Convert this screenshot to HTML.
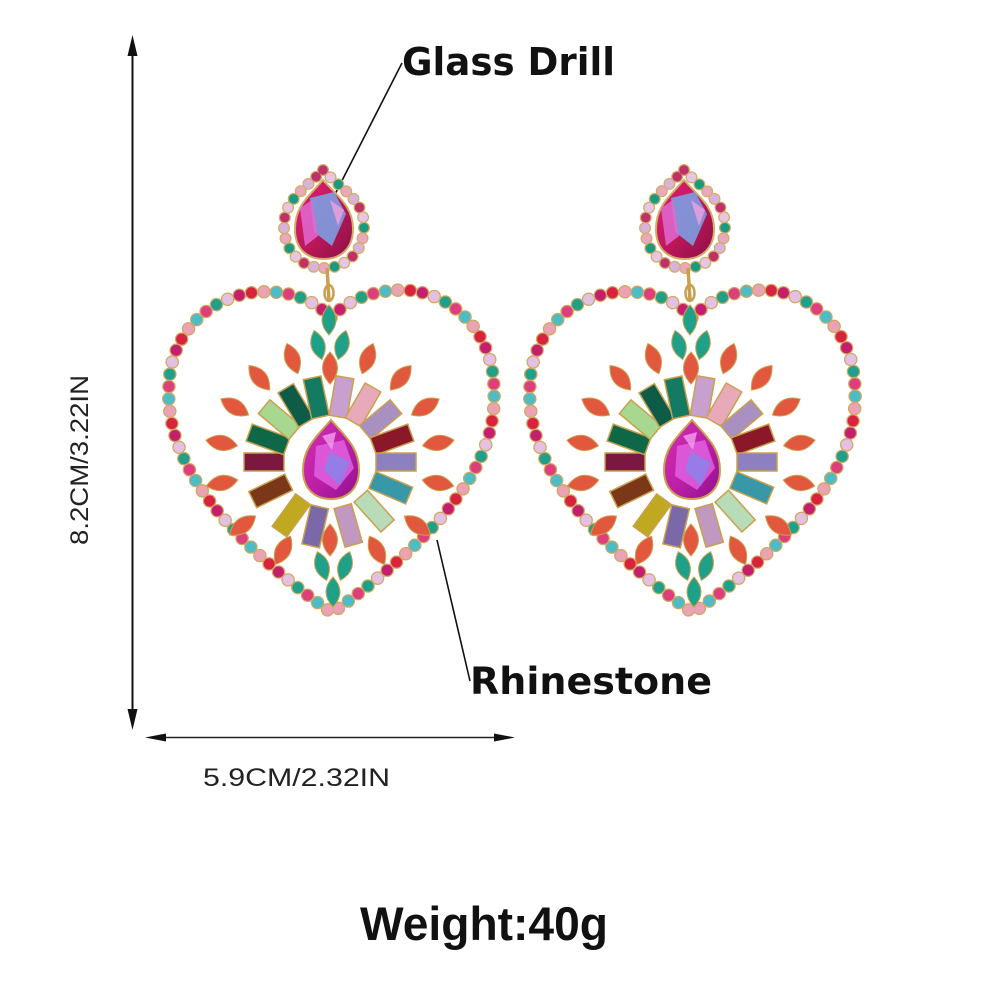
<!DOCTYPE html>
<html><head><meta charset="utf-8"><style>
html,body{margin:0;padding:0;background:#fff;}
svg{display:block}
</style></head><body>
<svg width="1000" height="1000" viewBox="0 0 1000 1000" xmlns="http://www.w3.org/2000/svg" xmlns:xlink="http://www.w3.org/1999/xlink">
<defs>
<path id="heart" d="M331 318 C 315 300, 290 290, 258 292 C 208 296, 170 335, 169 385 C 165 445, 200 520, 332 613 M331 318 C 347 300, 372 290, 405 290 C 455 293, 494 335, 494 390 C 497 450, 462 520, 332 613"/>
<path id="halo" d="M323 170 C 342 190, 364 200, 364 226 C 364 252, 346 268, 324 268 C 302 268, 284 252, 284 226 C 284 200, 304 190, 323 170 Z"/>
<path id="mq" d="M0,-16 Q15,0 0,16 Q-15,0 0,-16Z"/>
<path id="tq" d="M0,-15 Q14,0 0,15 Q-14,0 0,-15Z"/>
<rect id="bg" x="-9" y="-86" width="18" height="40"/>
<linearGradient id="gStud" x1="0" y1="0" x2="1" y2="1">
<stop offset="0" stop-color="#e0207a"/><stop offset="0.5" stop-color="#c0185a"/><stop offset="1" stop-color="#8a1048"/>
</linearGradient>
<linearGradient id="gCen" x1="0" y1="0" x2="1" y2="1">
<stop offset="0" stop-color="#d030b0"/><stop offset="0.5" stop-color="#c020a8"/><stop offset="1" stop-color="#901090"/>
</linearGradient>
</defs>

<!-- dimension arrows -->
<line x1="132.5" y1="50" x2="132.5" y2="715" stroke="#111" stroke-width="2"/>
<polygon points="132.5,35 127.5,56 137.5,56" fill="#111"/>
<polygon points="132.5,730 127.5,709 137.5,709" fill="#111"/>
<line x1="160" y1="737.5" x2="500" y2="737.5" stroke="#222" stroke-width="1.6"/>
<polygon points="145,737.5 166,733.5 166,741.5" fill="#111"/>
<polygon points="515,737.5 494,733.5 494,741.5" fill="#111"/>

<text x="0" y="0" transform="translate(88,545) rotate(-90)" font-family="Liberation Sans, sans-serif" font-size="25" fill="#222" textLength="170" lengthAdjust="spacingAndGlyphs">8.2CM/3.22IN</text>
<text x="203" y="786" font-family="Liberation Sans, sans-serif" font-size="25" fill="#222" textLength="187" lengthAdjust="spacingAndGlyphs">5.9CM/2.32IN</text>

<!-- leader lines -->
<line x1="402" y1="63" x2="328" y2="208" stroke="#111" stroke-width="1.6"/>
<line x1="437" y1="540" x2="470" y2="681" stroke="#111" stroke-width="1.6"/>

<text x="402" y="75" font-family="DejaVu Sans, Liberation Sans, sans-serif" font-weight="bold" font-size="38" fill="#111" textLength="213" lengthAdjust="spacingAndGlyphs">Glass Drill</text>
<text x="470" y="694" font-family="DejaVu Sans, Liberation Sans, sans-serif" font-weight="bold" font-size="37" fill="#111" textLength="242" lengthAdjust="spacingAndGlyphs">Rhinestone</text>
<text x="360" y="940" font-family="Liberation Sans, sans-serif" font-weight="bold" font-size="47" fill="#111" textLength="248" lengthAdjust="spacingAndGlyphs">Weight:40g</text>

<g id="ear">
  <!-- heart rhinestone ring -->
  <use href="#heart" xlink:href="#heart" fill="none" stroke="#cfa862" stroke-width="13.5" stroke-linecap="round" stroke-dasharray="0 12.4"/>
  <g fill="none" stroke-width="11" stroke-linecap="round">
    <use href="#heart" xlink:href="#heart" stroke="#d8223e" stroke-dasharray="0 86.8" stroke-dashoffset="0"/>
    <use href="#heart" xlink:href="#heart" stroke="#c41e6c" stroke-dasharray="0 86.8" stroke-dashoffset="-12.4"/>
    <use href="#heart" xlink:href="#heart" stroke="#e4c0e2" stroke-dasharray="0 86.8" stroke-dashoffset="-24.8"/>
    <use href="#heart" xlink:href="#heart" stroke="#1ea08a" stroke-dasharray="0 86.8" stroke-dashoffset="-37.2"/>
    <use href="#heart" xlink:href="#heart" stroke="#de3f7c" stroke-dasharray="0 86.8" stroke-dashoffset="-49.6"/>
    <use href="#heart" xlink:href="#heart" stroke="#4cbcc6" stroke-dasharray="0 86.8" stroke-dashoffset="-62"/>
    <use href="#heart" xlink:href="#heart" stroke="#eaa2b4" stroke-dasharray="0 86.8" stroke-dashoffset="-74.4"/>
  </g>

  <!-- stud -->
  <use href="#halo" xlink:href="#halo" fill="none" stroke="#d2ad66" stroke-width="12" stroke-linecap="round" stroke-dasharray="0 10.5"/>
  <g fill="none" stroke-width="9.5" stroke-linecap="round">
    <use href="#halo" xlink:href="#halo" stroke="#c0306a" stroke-dasharray="0 52.5" stroke-dashoffset="0"/>
    <use href="#halo" xlink:href="#halo" stroke="#e6c6e4" stroke-dasharray="0 52.5" stroke-dashoffset="-10.5"/>
    <use href="#halo" xlink:href="#halo" stroke="#1a9a80" stroke-dasharray="0 52.5" stroke-dashoffset="-21"/>
    <use href="#halo" xlink:href="#halo" stroke="#e9a8bc" stroke-dasharray="0 52.5" stroke-dashoffset="-31.5"/>
    <use href="#halo" xlink:href="#halo" stroke="#d8b4dc" stroke-dasharray="0 52.5" stroke-dashoffset="-42"/>
  </g>
  <path d="M323 180 C 337 196, 353 206, 353 229 C 353 249, 340 259, 324 259 C 307 259, 295 249, 295 229 C 295 206, 309 196, 323 180 Z" fill="url(#gStud)" stroke="#d2ad66" stroke-width="2"/>
  <polygon points="310,198 334,192 346,214 332,246 314,232" fill="#7aa6ea" opacity="0.85"/>
  <polygon points="300,208 312,200 318,236 305,246" fill="#e06ad0" opacity="0.85"/>
  <polygon points="330,200 344,210 338,226" fill="#f0a0e0" opacity="0.8"/>

  <!-- bail -->
  <line x1="327" y1="268" x2="329" y2="300" stroke="#c8a050" stroke-width="3.5"/>
  <ellipse cx="329" cy="293" rx="4.5" ry="8" fill="none" stroke="#c8a050" stroke-width="2.5"/>

  <!-- teal marquise clusters -->
  <g fill="#1fa088" stroke="#c9a04e" stroke-width="1">
    <use href="#tq" xlink:href="#tq" transform="translate(329,320)"/>
    <use href="#tq" xlink:href="#tq" transform="translate(318,345) rotate(-15)"/>
    <use href="#tq" xlink:href="#tq" transform="translate(342,345) rotate(15)"/>
    <use href="#tq" xlink:href="#tq" transform="translate(322,566) rotate(-18)"/>
    <use href="#tq" xlink:href="#tq" transform="translate(345,566) rotate(18)"/>
    <use href="#tq" xlink:href="#tq" transform="translate(333,592)"/>
  </g>

  <!-- orange marquises -->
  <g fill="#e2583f" stroke="#c9a04e" stroke-width="1">
    <use href="#mq" xlink:href="#mq" transform="translate(330,462) rotate(0) translate(0,-94)"/>
    <use href="#mq" xlink:href="#mq" transform="translate(330,462) rotate(180) translate(0,-78)"/>
    <use href="#mq" xlink:href="#mq" transform="translate(330,462) rotate(20) translate(0,-110)"/>
    <use href="#mq" xlink:href="#mq" transform="translate(330,462) rotate(-20) translate(0,-110)"/>
    <use href="#mq" xlink:href="#mq" transform="translate(330,462) rotate(40) translate(0,-110)"/>
    <use href="#mq" xlink:href="#mq" transform="translate(330,462) rotate(-40) translate(0,-110)"/>
    <use href="#mq" xlink:href="#mq" transform="translate(330,462) rotate(60) translate(0,-110)"/>
    <use href="#mq" xlink:href="#mq" transform="translate(330,462) rotate(-60) translate(0,-110)"/>
    <use href="#mq" xlink:href="#mq" transform="translate(330,462) rotate(80) translate(0,-110)"/>
    <use href="#mq" xlink:href="#mq" transform="translate(330,462) rotate(-80) translate(0,-110)"/>
    <use href="#mq" xlink:href="#mq" transform="translate(330,462) rotate(101) translate(0,-110)"/>
    <use href="#mq" xlink:href="#mq" transform="translate(330,462) rotate(-101) translate(0,-110)"/>
    <use href="#mq" xlink:href="#mq" transform="translate(330,462) rotate(126) translate(0,-108)"/>
    <use href="#mq" xlink:href="#mq" transform="translate(330,462) rotate(-126) translate(0,-108)"/>
    <use href="#mq" xlink:href="#mq" transform="translate(330,462) rotate(152) translate(0,-100)"/>
    <use href="#mq" xlink:href="#mq" transform="translate(330,462) rotate(-152) translate(0,-100)"/>
  </g>

  <!-- baguettes -->
  <g stroke="#c9a04e" stroke-width="1.5">
    <use href="#bg" xlink:href="#bg" fill="#c8a0d0" transform="translate(330,462) rotate(10)"/>
    <use href="#bg" xlink:href="#bg" fill="#e8aabb" transform="translate(330,462) rotate(30)"/>
    <use href="#bg" xlink:href="#bg" fill="#a890c0" transform="translate(330,462) rotate(50)"/>
    <use href="#bg" xlink:href="#bg" fill="#8a1828" transform="translate(330,462) rotate(70)"/>
    <use href="#bg" xlink:href="#bg" fill="#8c80c0" transform="translate(330,462) rotate(90)"/>
    <use href="#bg" xlink:href="#bg" fill="#3898a8" transform="translate(330,462) rotate(113)"/>
    <use href="#bg" xlink:href="#bg" fill="#b8dcb8" transform="translate(330,462) rotate(138)"/>
    <use href="#bg" xlink:href="#bg" fill="#c098c0" transform="translate(330,462) rotate(164)"/>
    <use href="#bg" xlink:href="#bg" fill="#7a68a8" transform="translate(330,462) rotate(-167)"/>
    <use href="#bg" xlink:href="#bg" fill="#c0a820" transform="translate(330,462) rotate(-144)"/>
    <use href="#bg" xlink:href="#bg" fill="#7a3818" transform="translate(330,462) rotate(-116)"/>
    <use href="#bg" xlink:href="#bg" fill="#7a1840" transform="translate(330,462) rotate(-90)"/>
    <use href="#bg" xlink:href="#bg" fill="#0e6848" transform="translate(330,462) rotate(-70)"/>
    <use href="#bg" xlink:href="#bg" fill="#a8d890" transform="translate(330,462) rotate(-50)"/>
    <use href="#bg" xlink:href="#bg" fill="#0e5c48" transform="translate(330,462) rotate(-31)"/>
    <use href="#bg" xlink:href="#bg" fill="#157a62" transform="translate(330,462) rotate(-12)"/>
  </g>

  <!-- center gem -->
  <path d="M331 420 C 346 437, 359 448, 359 470 C 359 489, 347 499, 331 499 C 315 499, 303 489, 303 470 C 303 448, 316 437, 331 420 Z" fill="url(#gCen)" stroke="#c9a04e" stroke-width="2"/>
  <polygon points="316,446 344,440 354,468 336,490 314,476" fill="#e060e0" opacity="0.85"/>
  <polygon points="330,452 350,462 340,486 324,470" fill="#8a82ea" opacity="0.85"/>
  <polygon points="322,436 336,432 332,450" fill="#f0a0f0" opacity="0.8"/>
</g>
<use href="#ear" xlink:href="#ear" x="361" y="0"/>
</svg>
</body></html>
